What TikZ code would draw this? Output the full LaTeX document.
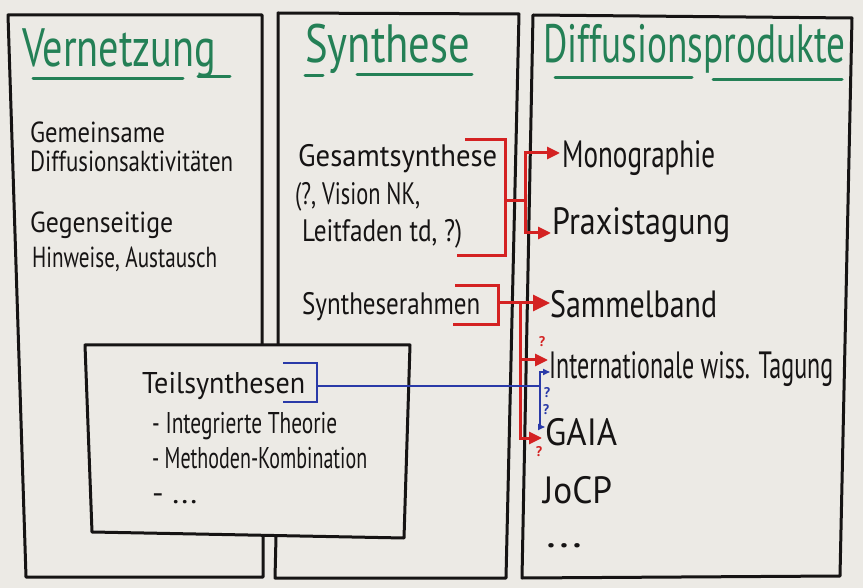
\documentclass[tikz,border=0pt]{standalone}
\usepackage{fontspec}
\usepackage{graphicx}
\newfontfamily\hand{PT Sans}
\usetikzlibrary{arrows.meta,calc}
\definecolor{paper}{RGB}{236,234,229}
\definecolor{mgreen}{RGB}{36,128,86}
\definecolor{mred}{RGB}{212,34,34}
\definecolor{mblue}{RGB}{42,58,168}
\definecolor{ink}{RGB}{22,20,20}
\newcommand{\fitw}[2]{\resizebox{#1pt}{\height}{#2}}
\begin{document}
\begin{tikzpicture}[x=1pt,y=-1pt,
 frame/.style={draw=ink,line width=3pt,line join=round,line cap=round},
 lbl/.style={anchor=base west,inner sep=0pt,text=ink},
 head/.style={lbl,text=mgreen,font=\hand\fontsize{54}{54}\selectfont},
 leftt/.style={lbl,font=\hand\fontsize{29}{29}\selectfont},
 midt/.style={lbl,font=\hand\fontsize{31}{31}\selectfont},
 teilt/.style={lbl,font=\hand\fontsize{30}{30}\selectfont},
 rightt/.style={lbl,font=\hand\fontsize{38}{38}\selectfont},
 uline/.style={draw=mgreen,line width=3pt,line cap=round},
 redl/.style={draw=mred,line width=3pt},
 redarr/.style={redl,-{Triangle[length=13pt,width=12pt]}},
 redbig/.style={redl,-{Triangle[length=17pt,width=16pt]}},
 bluel/.style={draw=mblue,line width=2.6pt},
 bluearr/.style={draw=mblue,line width=1.6pt,-{Triangle[length=7pt,width=6pt]}},
 qm/.style={inner sep=0pt,font=\hand\bfseries\fontsize{14}{14}\selectfont}
]
\fill[paper] (0,0) rectangle (863,588);
\useasboundingbox (0,0) rectangle (863,588);

% column frames
\draw[frame] (262,345) -- (262,15) -- (8,15) -- (26,577) -- (263,577) -- (263,536);
\draw[frame] (278,345) -- (278,13) -- (519,14) -- (506,578) -- (275,578) -- (276,537);
\draw[frame] (533,15) -- (852,18) -- (840,576) -- (522,578) -- cycle;
% Teilsynthesen box
\draw[frame,fill=paper] (85,345) -- (410,345) -- (404,538) -- (92,532) -- cycle;

% headings
\node[head] (hv) at (22,67) {\fitw{194}{Vernetzung}};
\draw[uline] (33,79) -- (183,79);
\draw[uline] (198,77) -- (230,77);
\node[head] (hs) at (305,63) {\fitw{165}{Synthese}};
\draw[uline] (305,76) -- (323,76);
\draw[uline] (357,75) -- (472,75);
\node[head] (hd) at (543,63) {\fitw{302}{Diffusionsprodukte}};
\draw[uline] (555,78) -- (692,78);
\draw[uline] (713,80) -- (842,80);

% left column
\node[leftt] (l1) at (30,143) {\fitw{135}{Gemeinsame}};
\node[leftt] (l2) at (30,172) {\fitw{203}{Diffusionsaktivitäten}};
\node[leftt] (l3) at (30,233) {\fitw{143}{Gegenseitige}};
\node[leftt] (l4) at (32,268) {\fitw{185}{Hinweise, Austausch}};

% middle column
\node[midt] (g1) at (298,167) {\fitw{199}{Gesamtsynthese}};
\node[midt] (g2) at (295,205) {\fitw{125}{(?, Vision NK,}};
\node[midt] (g3) at (302,242) {\fitw{160}{Leitfaden td, ?)}};
\node[midt] (rahmen) at (302,315) {\fitw{178}{Syntheserahmen}};

% Teilsynthesen box text
\node[teilt] (teil) at (142,393) {\fitw{163}{Teilsynthesen}};
\node[teilt] (t1) at (152,433) {\fitw{185}{- Integrierte Theorie}};
\node[teilt] (t2) at (152,468) {\fitw{215}{- Methoden-Kombination}};
\node[teilt] (t3) at (152,503) {\fitw{45}{- ...}};

% right column
\node[rightt] (mono) at (562,168) {\fitw{153}{Monographie}};
\node[rightt] (praxis) at (552,235) {\fitw{178}{Praxistagung}};
\node[rightt] (sammel) at (550,317) {\fitw{167}{Sammelband}};
\node[rightt] (intl) at (549,378) {\fitw{284}{Internationale wiss. Tagung}};
\node[rightt] (gaia) at (545,445) {\fitw{72}{GAIA}};
\node[rightt] (jocp) at (543,503) {\fitw{69}{JoCP}};
\node[rightt] (rdots) at (546,547) {\fitw{36}{...}};

% red bracket: Gesamtsynthese
\coordinate (gbt) at (465,140);
\coordinate (gbb) at (457,256);
\coordinate (gbr) at (505,201);
\coordinate (gsp) at (525,201);
\draw[redl] (gbt) -- (gbt -| gbr) -- (gbb -| gbr) -- (gbb);
\draw[redl] (gbr) -- (gsp);
\draw[redarr] (gsp) |- ($(mono.base west)+(-2,-15)$);
\draw[redarr] (gsp) |- ($(praxis.base west)+(-1,-2)$);

% red bracket: Syntheserahmen
\coordinate (sbt) at (455,286);
\coordinate (sbb) at (453,325);
\coordinate (sbr) at (498,303);
\coordinate (ssp) at (520,303);
\draw[redl] (sbt) -- (sbt -| sbr) -- (sbb -| sbr) -- (sbb);
\draw[redbig] (sbr) -- ($(sammel.base west)+(0,-14)$);
\draw[redarr] (ssp) |- ($(intl.base west)+(-1,-18)$);
\draw[redarr] (ssp) |- ($(gaia.base west)+(-3,-7)$);
\node[qm,text=mred] (q1) at (542,342) {?};
\node[qm,text=mred] (q4) at (539,452) {?};

% blue bracket: Teilsynthesen
\coordinate (tbt) at (283,363);
\coordinate (tbb) at (283,402);
\coordinate (tbr) at (317,386);
\coordinate (bsp) at (540,386);
\draw[bluel] (tbt) -- (tbt -| tbr) -- (tbb -| tbr) -- (tbb);
\draw[bluel] (tbr) -- (bsp);
\draw[bluearr] (bsp) |- ($(intl.base west)+(1,-6)$);
\draw[bluearr] (bsp) |- ($(gaia.base west)+(0,-18)$);
\node[qm,text=mblue] (q2) at (547,393) {?};
\node[qm,text=mblue] (q3) at (546,410) {?};
\end{tikzpicture}
\end{document}
